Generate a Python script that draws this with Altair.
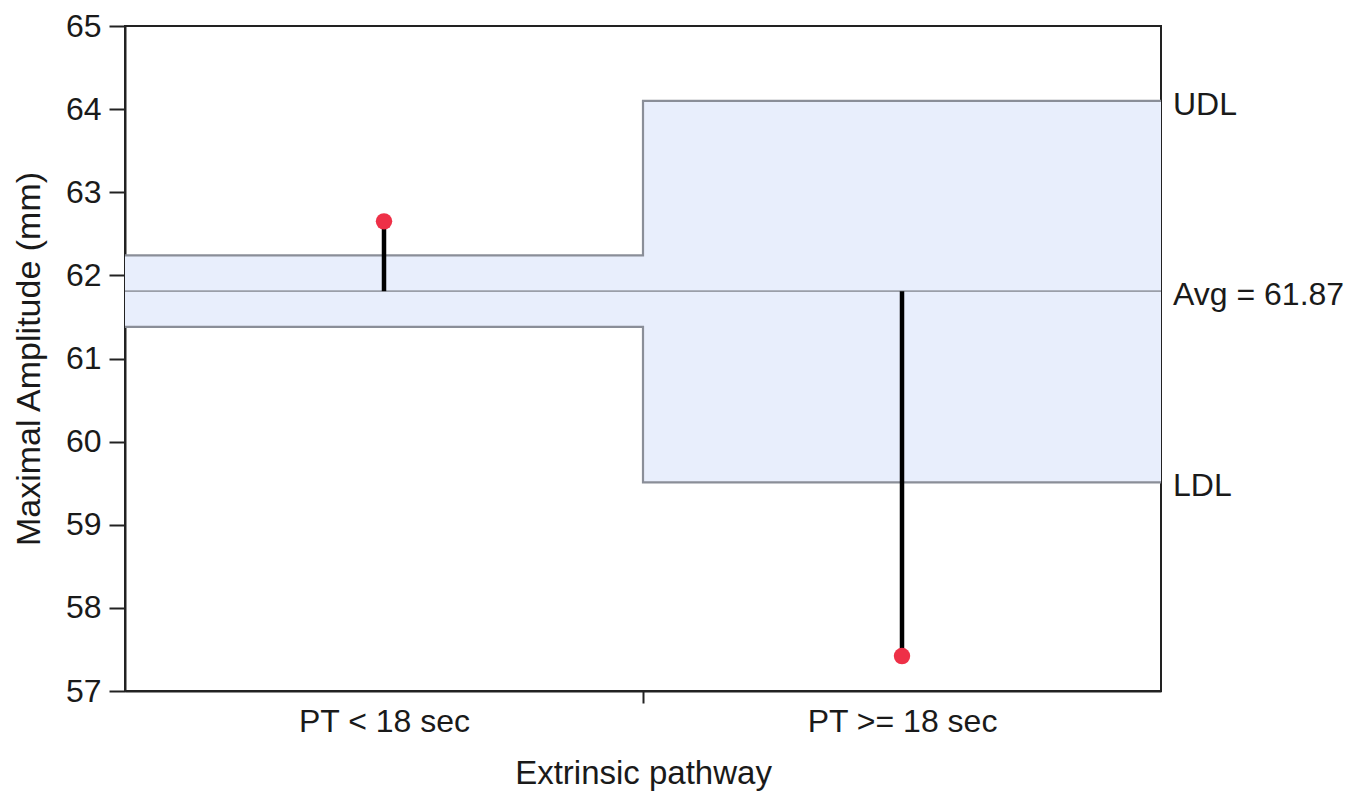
import altair as alt
import pandas as pd

# ---- data ----
categories = ["PT < 18 sec", "PT >= 18 sec"]
group_means = [62.65, 57.42]
udl = [62.24, 64.10]
ldl = [61.38, 59.51]
center = 61.81
limit_labels = ["UDL", "Avg = 61.87", "LDL"]
y_ticks = [57, 58, 59, 60, 61, 62, 63, 64, 65]

FONT = "Liberation Sans"
n = len(categories)
pos = [i + 0.5 for i in range(n)]

bands = pd.DataFrame({"x0": list(range(n)), "x1": [i + 1 for i in range(n)], "lo": ldl, "hi": udl})
upper = pd.DataFrame({"sx": list(range(n + 1)), "sy": udl + [udl[-1]]})
lower = pd.DataFrame({"sx": list(range(n + 1)), "sy": ldl + [ldl[-1]]})
avg_df = pd.DataFrame({"sx": [0, n], "sy": [center, center]})
pts = pd.DataFrame({"px": pos, "mean": group_means, "avg": [center] * n, "cat": categories})
lab = pd.DataFrame({"t": limit_labels, "v": [udl[-1], center, ldl[-1]]})

label_expr = " : ".join(
    [f"datum.value == {p} ? '{c}'" for p, c in zip(pos, categories)]
) + " : ''"

xs = alt.Scale(domain=[0, n], nice=False, zero=False)
ys = alt.Scale(domain=[57, 65], nice=False, zero=False)
xa = alt.Axis(
    title="Extrinsic pathway",
    values=pos + [1],
    labelExpr=label_expr,
    labelLimit=500,
    grid=False,
    tickSize=12,
    tickWidth=2,
    tickColor="#222",
    tickOpacity={"condition": {"test": "datum.value == 1", "value": 1}, "value": 0},
    labelPadding=3,
    labelFontSize=32,
    titleFontSize=33,
    titlePadding=20,
    titleFontWeight="normal",
    labelFont=FONT,
    titleFont=FONT,
    labelColor="#1a1a1a",
    titleColor="#1a1a1a",
    domainColor="#222",
    domainWidth=2,
)
ya = alt.Axis(
    title="Maximal Amplitude (mm)",
    values=y_ticks,
    grid=False,
    tickSize=16,
    tickWidth=2,
    tickColor="#222",
    labelPadding=8,
    labelFontSize=32,
    titleFontSize=34,
    titlePadding=19,
    titleFontWeight="normal",
    labelFont=FONT,
    titleFont=FONT,
    labelColor="#1a1a1a",
    titleColor="#1a1a1a",
    domainColor="#222",
    domainWidth=2,
)


def X(f):
    return alt.X(f, type="quantitative", scale=xs, axis=xa)


def Y(f):
    return alt.Y(f, type="quantitative", scale=ys, axis=ya)


band_layer = alt.Chart(bands).mark_rect(color="#E8EEFC").encode(
    x=X("x0"), x2="x1", y=Y("lo"), y2="hi"
)
line_style = dict(color="#8A8E98", strokeWidth=2.2, interpolate="step-after")
up_layer = alt.Chart(upper).mark_line(**line_style).encode(x=X("sx"), y=Y("sy"))
lo_layer = alt.Chart(lower).mark_line(**line_style).encode(x=X("sx"), y=Y("sy"))
avg_layer = alt.Chart(avg_df).mark_line(color="#9A9EA8", strokeWidth=1.6).encode(x=X("sx"), y=Y("sy"))
stem_layer = alt.Chart(pts).mark_rule(color="#000000", strokeWidth=4.5).encode(
    x=X("px"), y=Y("avg"), y2="mean"
)
dot_layer = alt.Chart(pts).mark_circle(color="#EE3047", opacity=1, size=270).encode(
    x=X("px"), y=Y("mean")
)
text_layer = alt.Chart(lab).mark_text(
    align="left", baseline="middle", dx=12, dy=4, fontSize=32, font=FONT, color="#1a1a1a"
).encode(x=alt.value(1036), y=Y("v"), text="t:N")

chart = (
    alt.layer(band_layer, up_layer, lo_layer, avg_layer, stem_layer, dot_layer, text_layer)
    .properties(width=1036, height=665, padding={"left": 4, "top": 2, "right": 5, "bottom": 5})
    .configure_view(stroke="#222", strokeWidth=2)
)

chart.save("out.html", embed_options={"renderer": "svg", "actions": False})
